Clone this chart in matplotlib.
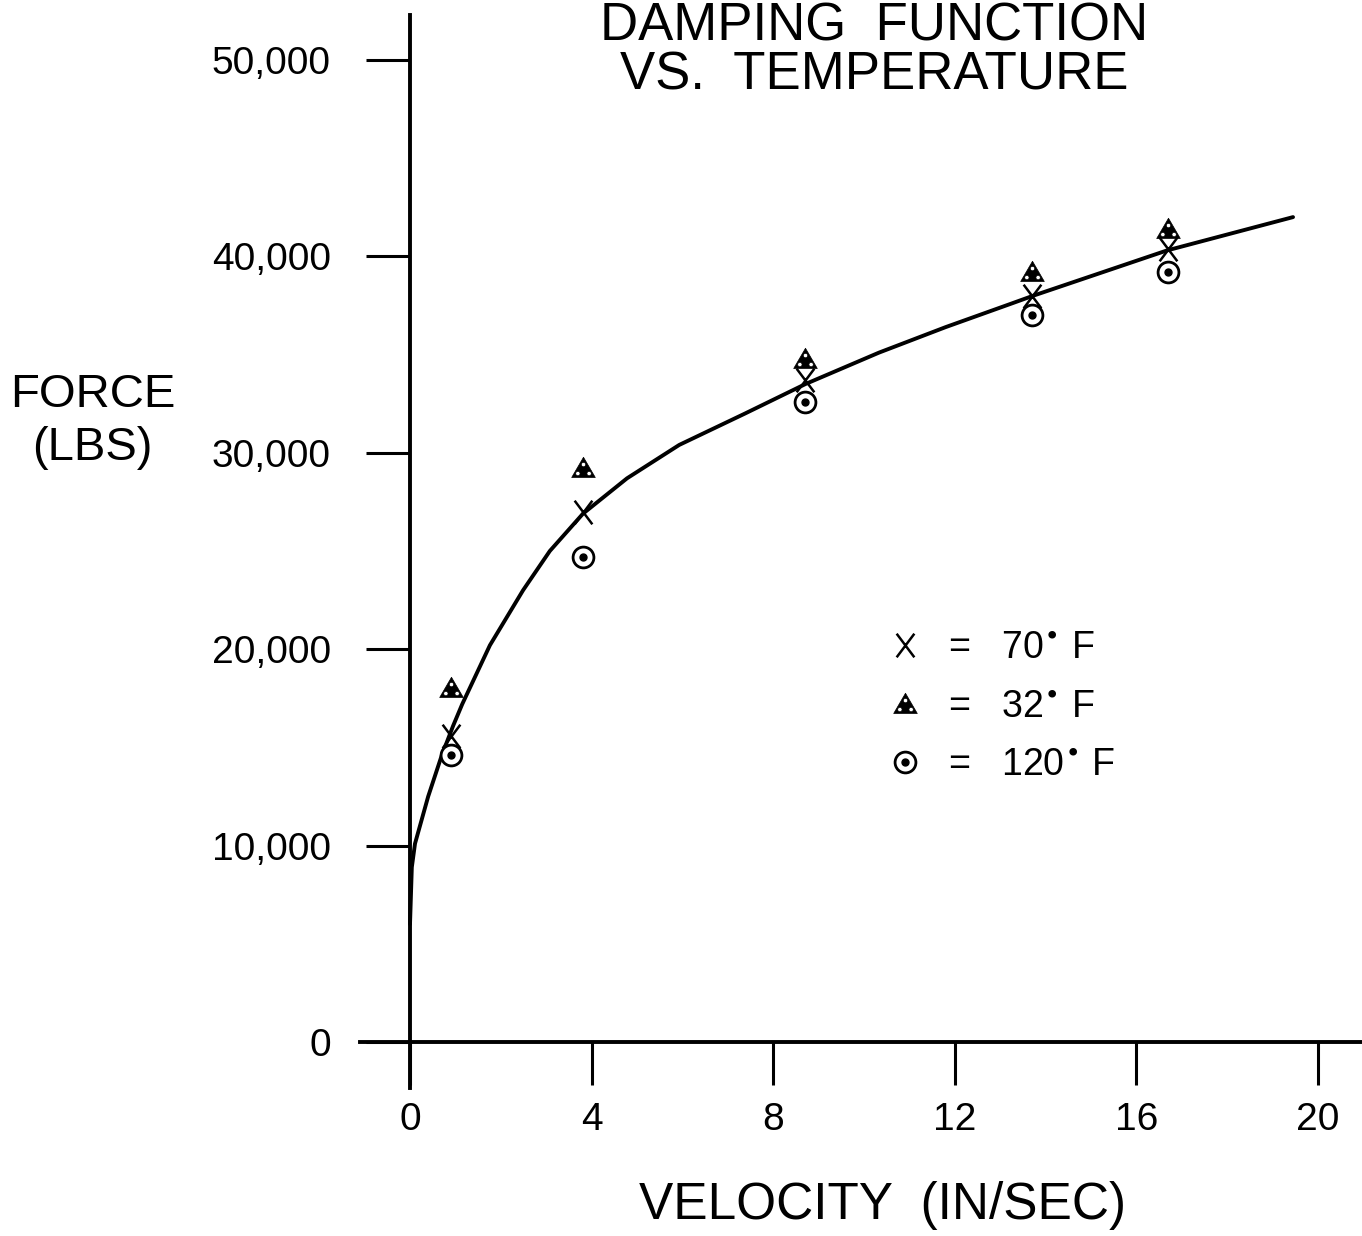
import numpy as np
import matplotlib
matplotlib.use("Agg")
import matplotlib.pyplot as plt
from matplotlib.path import Path
from matplotlib.lines import Line2D

plt.rcParams['font.family'] = ['Liberation Sans', 'DejaVu Sans']

# data
velocity = [0.9, 3.8, 8.7, 13.7, 16.7]
force_70 = [15600, 27000, 33700, 38000, 40400]
force_32 = [18000, 29200, 34800, 39200, 41400]
force_120 = [14600, 24700, 32600, 37000, 39200]

curve_v = [0, 0.04, 0.11, 0.40, 0.70, 0.95, 1.15, 1.76, 2.49, 3.08, 3.81,
           4.78, 5.93, 7.38, 8.71, 10.33, 11.8, 13.25, 13.73, 16.67, 19.45]
curve_f = [6000, 8900, 10100, 12500, 14600, 16100, 17200, 20200, 23000, 25000,
           26900, 28700, 30400, 32000, 33500, 35100, 36400, 37600, 38000,
           40300, 42000]

x_ticks = [0, 4, 8, 12, 16, 20]
y_ticks = [0, 10000, 20000, 30000, 40000, 50000]
y_tick_labels = ['0', '10,000', '20,000', '30,000', '40,000', '50,000']
legend_labels = [r'=   70$^{\bullet}$ F', r'=   32$^{\bullet}$ F', r'=   120$^{\bullet}$ F']


# marker shapes
def x_marker():
    verts = [(-0.75, 1), (0.75, -1), (-0.75, -1), (0.75, 1)]
    codes = [Path.MOVETO, Path.LINETO, Path.MOVETO, Path.LINETO]
    return Path(verts, codes)


def dotted_triangle():
    verts = [(0, 1), (-1.05, -0.8), (1.05, -0.8), (0, 1)]
    codes = [Path.MOVETO, Path.LINETO, Path.LINETO, Path.CLOSEPOLY]
    holes = [(-0.5, -0.45), (0.5, -0.45), (0, 0.35)]
    t = np.linspace(0, -2 * np.pi, 13)
    for cx, cy in holes:
        pts = list(zip(cx + 0.2 * np.cos(t), cy + 0.2 * np.sin(t)))
        verts += pts
        codes += [Path.MOVETO] + [Path.LINETO] * (len(pts) - 2) + [Path.CLOSEPOLY]
    return Path(verts, codes)


fig = plt.figure(figsize=(13.62, 12.36), dpi=100)
ax = fig.add_axes([0, 0, 1, 1])
ax.set_xlim(-9.031, 20.969)
ax.set_ylim(-9878, 53054)
ax.patch.set_alpha(0)

for s in ['top', 'right']:
    ax.spines[s].set_visible(False)
ax.spines['left'].set_position(('data', 0))
ax.spines['bottom'].set_position(('data', 0))
ax.spines['left'].set_bounds(-2340, 52300)
ax.spines['bottom'].set_bounds(-1.1, 20.97)
ax.spines['left'].set_linewidth(2.8)
ax.spines['bottom'].set_linewidth(2.8)

ax.set_xticks(x_ticks)
ax.set_xticklabels([str(v) for v in x_ticks])
ax.set_yticks(y_ticks)
ax.set_yticklabels(y_tick_labels)
ax.tick_params(axis='x', direction='out', length=31, width=2.2, pad=12, labelsize=28)
ax.tick_params(axis='y', direction='out', length=32, width=2.2, pad=25, labelsize=28)

ax.plot(curve_v, curve_f, color='black', lw=2.8, solid_capstyle='round',
        solid_joinstyle='round', zorder=2)

xm = x_marker()
tri = dotted_triangle()
ax.plot(velocity, force_70, ls='none', marker=xm, ms=17, mew=1.8, mec='black', zorder=3)
ax.plot(velocity, force_32, ls='none', marker=tri, ms=17, mfc='black', mec='black', mew=0.5, zorder=3)
ax.plot(velocity, force_120, ls='none', marker='o', ms=15, mfc='white', mec='black', mew=2.0, zorder=3)
ax.plot(velocity, force_120, ls='none', marker='o', ms=5, mfc='black', mec='black', zorder=4)

h70 = Line2D([], [], ls='none', marker=xm, ms=17, mew=1.8, color='black')
h32 = Line2D([], [], ls='none', marker=tri, ms=17, mfc='black', mec='black', mew=0.5)
h120 = (Line2D([], [], ls='none', marker='o', ms=15, mfc='white', mec='black', mew=2.0),
        Line2D([], [], ls='none', marker='o', ms=5, color='black'))
ax.legend([h70, h32, h120], legend_labels, loc='center left',
          bbox_to_anchor=(0.641, 0.428), frameon=False, fontsize=27,
          handlelength=0.7, handletextpad=0.8, labelspacing=0.6, borderpad=0)

fig.text(0.642, 0.999, 'DAMPING  FUNCTION\nVS.  TEMPERATURE', ha='center', va='top',
         fontsize=38, linespacing=0.98)
fig.text(0.068, 0.659, 'FORCE\n(LBS)', ha='center', va='center', fontsize=34, linespacing=1.25)
fig.text(0.648, 0.025, 'VELOCITY  (IN/SEC)', ha='center', va='center', fontsize=37)

fig.savefig('out.png', dpi=100)
